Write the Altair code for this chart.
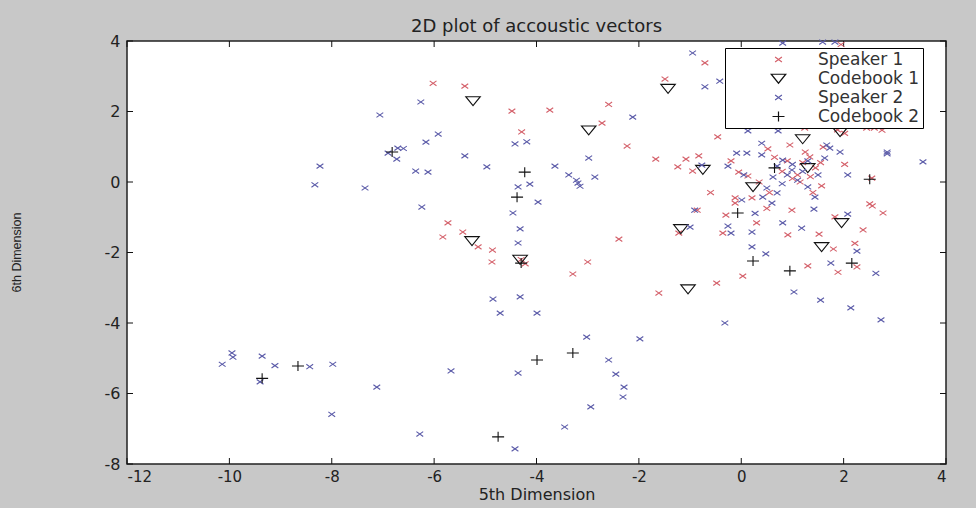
import altair as alt
import pandas as pd

# ---- Speaker 1 acoustic vectors (5th vs 6th MFCC dimension) ----
s1_x = [-6.02, -5.40, -4.48, -3.74, -2.59, -2.72, -4.29, -2.23, -1.49, -0.71,
        -1.67, -1.24, -1.08, -0.83, -0.95, -0.46, -0.86,
        -5.73, -5.83, -5.44, -5.14, -4.86, -4.87, -4.30, -4.22, -3.00, -2.39, -3.29, -1.61,
        -1.22, -0.48, 0.03, 1.30, 1.89, 2.26,
        -0.12, -0.30, 0.50, 0.99, -0.36, 0.30, 0.91,
        1.83, 2.51, 2.56, 2.77, 1.52, 2.38, 2.22, 1.80,
        -0.05, 0.13, 0.52, -0.12, 0.21,
        1.24, 1.88, 2.02, 2.45, 2.60, 2.75, 1.60, 1.34, 2.02, 1.57, 2.55, 0.95,
        0.80, 1.00, 1.20, 1.10, 1.35, 1.45, 1.15, 0.35, 0.55, 1.95, 1.25, 0.90,
        1.55, 0.65, 1.40, -0.60, -0.20]
s1_y = [2.80, 2.72, 2.01, 2.04, 2.20, 1.67, 1.42, 1.02, 2.92, 3.38,
        0.65, 0.43, 0.65, 0.74, 0.31, 1.28, -0.80,
        -1.16, -1.56, -1.42, -1.84, -1.93, -2.27, -2.20, -2.32, -2.27, -1.62, -2.61, -3.15,
        -1.45, -2.87, -2.67, -2.38, -2.56, -2.41,
        -0.60, -0.94, -0.75, -0.80, -1.45, -1.16, -1.50,
        -0.99, -0.62, -0.68, -0.88, -1.48, -1.36, -1.74, -1.90,
        0.28, 0.17, 0.94, -0.45, -0.45,
        1.53, 1.48, 1.38, 1.53, 1.53, 1.47, 0.99, 0.71, 0.50, -0.11, 0.11, 1.05,
        0.30, 0.10, 0.55, 0.20, 0.15, 0.40, 0.00, 0.00, -0.30, 3.90, 0.85, 0.60,
        0.55, 0.70, -0.30, -0.30, 0.60]

# ---- Codebook 1 (VQ centroids for speaker 1) ----
cb1_x = [-5.24, -1.43, -2.98, 1.93, 1.20, -0.75, 1.30, 0.23, -1.18, 1.96, 1.57, -5.26, -4.32, -1.04]
cb1_y = [2.30, 2.65, 1.47, 1.42, 1.22, 0.35, 0.40, -0.14, -1.33, -1.16, -1.84, -1.67, -2.20, -3.04]

# ---- Speaker 2 acoustic vectors ----
s2_x = [-7.06, -8.23, -8.33, -7.35, -6.26, -6.71, -6.60, -6.90, -6.73, -5.92, -6.16, -4.42, -4.19,
        -2.12, -0.95, -0.71, -0.42, 0.81, 1.59, 1.83,
        -5.40, -2.98, -4.97, -6.36, -6.12, -3.64, -3.37, -3.19, -3.15, -3.22, -2.86, -0.77,
        -4.36, -4.13, -3.97, -6.24, -4.46, -0.91, -4.32, -4.36, -1.00,
        -4.85, -4.32, -4.71, -3.99, -3.02, -1.98, -2.59, -2.45, -2.29, -2.31, -2.94, -3.45,
        -5.67, -4.36, -6.28, -4.42, -7.12,
        -10.14, -9.95, -9.93, -9.36, -9.11, -9.40, -8.43, -7.98, -8.00,
        -0.32, 1.03, 1.55, 1.75, 2.63, 2.14, 2.73,
        1.42, 2.08, 1.18, 2.26,
        0.27, -0.20, -0.26, 0.21, 0.81, 0.21, 0.48,
        0.13, 0.72, -0.09, 0.11, 0.40, 0.40, -0.26, 0.05, 0.70, 0.81, 0.99, 0.62, 0.50, 0.01,
        0.42, 0.70, 0.80,
        1.73, 1.93, 2.85, 2.85, 3.55, 2.08, 1.30, 1.44, 1.63, 1.67, 1.00, 1.20, 1.30, 1.10, 0.90,
        1.50, 0.60]
s2_y = [1.90, 0.45, -0.08, -0.17, 2.27, 0.96, 0.95, 0.82, 0.65, 1.36, 1.13, 1.08, 1.14,
        1.84, 3.66, 2.70, 2.86, 3.94, 3.97, 3.97,
        0.74, 0.68, 0.43, 0.31, 0.28, 0.45, 0.20, -0.03, -0.12, 0.05, 0.14, 0.48,
        -0.14, -0.06, -0.57, -0.71, -0.88, -0.80, -1.33, -1.73, -1.28,
        -3.32, -3.26, -3.72, -3.72, -4.40, -4.45, -5.05, -5.45, -5.82, -6.10, -6.38, -6.95,
        -5.36, -5.42, -7.15, -7.57, -5.82,
        -5.17, -4.85, -4.97, -4.94, -5.21, -5.67, -5.24, -5.17, -6.59,
        -4.00, -3.12, -3.35, -2.30, -2.59, -3.57, -3.91,
        -0.77, -0.91, -1.31, -1.96,
        -0.89, -1.45, -1.25, -1.42, -1.16, -1.84, -2.04,
        1.45, 1.45, 0.82, 0.82, 1.10, 0.77, 0.45, 0.20, 0.45, 0.62, 0.34, 0.14, -0.17, -0.51,
        -0.43, -0.31, -0.05,
        0.96, 0.85, 0.85, 0.80, 0.57, 0.20, -0.14, -0.43, 0.68, 1.05, 0.50, 0.30, 0.60, 0.05, 0.20,
        0.20, -0.60]

# ---- Codebook 2 (VQ centroids for speaker 2) ----
cb2_x = [-6.82, -4.23, -4.38, -4.30, -9.36, -8.66, -3.99, -3.29, -4.75, -0.07, 0.23, 0.95, 2.16, 2.51, 0.65]
cb2_y = [0.85, 0.28, -0.43, -2.30, -5.57, -5.22, -5.05, -4.85, -7.23, -0.88, -2.24, -2.52, -2.30, 0.08, 0.40]

series_names = ["Speaker 1", "Codebook 1", "Speaker 2", "Codebook 2"]
x_ticks = [-12, -10, -8, -6, -4, -2, 0, 2, 4]
y_ticks = [-8, -6, -4, -2, 0, 2, 4]

W, H = 819, 423
TICK_LEN = 6
RED, BLUE, INK = "#d4606a", "#5a5aa8", "#111111"

# symbol outlines, all drawn at size 100 (1 unit = 5 px)
X_PATH = "M-0.68,-0.48L0.68,0.48M-0.68,0.48L0.68,-0.48"
TRI_PATH = "M-1.45,-0.85L1.45,-0.85L0,0.95Z"
PLUS_PATH = "M-1.2,0L1.2,0M0,-1L0,1"

frames = []
for name, xs, ys in [("Speaker 1", s1_x, s1_y), ("Codebook 1", cb1_x, cb1_y),
                     ("Speaker 2", s2_x, s2_y), ("Codebook 2", cb2_x, cb2_y)]:
    frames.append(pd.DataFrame({"x": xs, "y": ys, "series": name}))
df = pd.concat(frames, ignore_index=True)

FONT = "DejaVu Sans"
HYPHEN_LABEL = "'' + datum.value"

legend = alt.Legend(
    title=None, orient="none", legendX=598, legendY=7,
    strokeColor="black", fillColor="white", padding=3, cornerRadius=0,
    symbolOffset=42, labelOffset=31, rowPadding=1,
    labelFont=FONT, labelFontSize=17, labelColor="#333333",
    symbolStrokeWidth=1.2, symbolSize=100,
)

xscale = alt.Scale(domain=[-12, 4], nice=False, zero=False)
yscale = alt.Scale(domain=[-8, 4], nice=False, zero=False)

points = alt.Chart(df).mark_point(filled=False, strokeWidth=1.1, opacity=1, size=100).encode(
    x=alt.X("x:Q", scale=xscale,
            axis=alt.Axis(values=x_ticks, ticks=False, domain=False, grid=False,
                          labelExpr=HYPHEN_LABEL,
                          labelFont=FONT, labelFontSize=15, labelColor="#222222",
                          labelPadding=5, title="5th Dimension", titleFont=FONT,
                          titleFontSize=16, titleFontWeight="normal", titleColor="#222222",
                          titlePadding=2)),
    y=alt.Y("y:Q", scale=yscale,
            axis=alt.Axis(values=y_ticks, ticks=False, domain=False, grid=False,
                          labelExpr=HYPHEN_LABEL,
                          labelFont=FONT, labelFontSize=16, labelColor="#222222",
                          labelPadding=7, title="6th Dimension",
                          titleFont="Liberation Sans", titleFontSize=12.5,
                          titleFontWeight="normal", titleColor="#222222",
                          titleX=-111, titleY=211, titleAlign="center", titleBaseline="middle")),
    color=alt.Color("series:N", scale=alt.Scale(domain=series_names, range=[RED, INK, BLUE, INK]),
                    legend=legend),
    shape=alt.Shape("series:N", scale=alt.Scale(domain=series_names,
                                                range=[X_PATH, TRI_PATH, X_PATH, PLUS_PATH]),
                    legend=legend),
)

# inward tick marks on all four sides of the box
xt = pd.DataFrame({"x": x_ticks})
yt = pd.DataFrame({"y": y_ticks})
bottom = alt.Chart(xt).mark_rule(color=INK, strokeWidth=1).encode(
    x="x:Q", y=alt.value(H), y2=alt.value(H - TICK_LEN))
top = alt.Chart(xt).mark_rule(color=INK, strokeWidth=1).encode(
    x="x:Q", y=alt.value(0), y2=alt.value(TICK_LEN))
left = alt.Chart(yt).mark_rule(color=INK, strokeWidth=1).encode(
    y="y:Q", x=alt.value(0), x2=alt.value(TICK_LEN))
right = alt.Chart(yt).mark_rule(color=INK, strokeWidth=1).encode(
    y="y:Q", x=alt.value(W), x2=alt.value(W - TICK_LEN))

chart = alt.layer(bottom, top, left, right, points).properties(
    width=W, height=H,
    title=alt.TitleParams("2D plot of accoustic vectors",
                          font=FONT, fontSize=18, dy=3,
                          fontWeight="normal", color="#222222", offset=0, anchor="middle"),
    autosize=alt.AutoSizeParams(type="none"),
    padding={"left": 127, "top": 41, "right": 30, "bottom": 44},
).configure(background="#c8c8c8").configure_view(
    fill="white", stroke="#222222", strokeWidth=1.5
)

chart.save("out.html", embed_options={"renderer": "svg", "actions": False})
